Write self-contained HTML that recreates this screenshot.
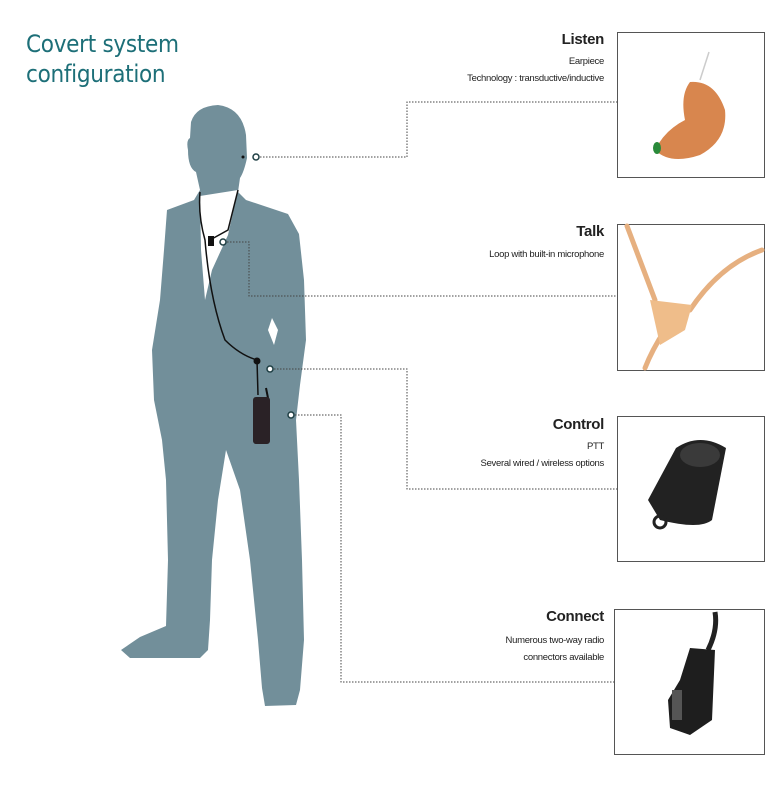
<!DOCTYPE html>
<html><head><meta charset="utf-8"><style>
body{margin:0;background:#fff;width:780px;height:812px;overflow:hidden;font-family:"Liberation Sans",sans-serif}
.t{position:absolute;right:176px;text-align:right;color:#222}
.h{font-weight:bold;font-size:15px;letter-spacing:-0.3px}
.s{font-size:9.5px;line-height:17px;letter-spacing:-0.3px}
.box{position:absolute;border:1.5px solid #555;background:#fff}
</style></head><body>
<div style="position:absolute;left:26px;top:29px;color:#1d6f78;font-size:24px;line-height:30px;font-family:'DejaVu Sans Condensed','Liberation Sans',sans-serif;letter-spacing:-0.3px">Covert system<br>configuration</div>

<div class="t h" style="top:31px">Listen</div>
<div class="t s" style="top:53px">Earpiece<br>Technology : transductive/inductive</div>
<div class="t h" style="top:223px">Talk</div>
<div class="t s" style="top:246px">Loop with built-in microphone</div>
<div class="t h" style="top:416px">Control</div>
<div class="t s" style="top:438px">PTT<br>Several wired / wireless options</div>
<div class="t h" style="top:608px">Connect</div>
<div class="t s" style="top:632px">Numerous two-way radio<br>connectors available</div>

<div class="box" style="left:617px;top:32px;width:146px;height:144px"></div>
<div class="box" style="left:617px;top:224px;width:146px;height:145px"></div>
<div class="box" style="left:617px;top:416px;width:146px;height:144px"></div>
<div class="box" style="left:614px;top:609px;width:149px;height:144px"></div>

<svg width="780" height="812" style="position:absolute;left:0;top:0">
<path fill="#728f9a" d="M218,105 Q242,108 246,135 L247,158 Q244,172 240,178 L238,192 L246,200 L288,214 L299,234 L304,280 L306,340 L300,385 L296,420 L299,480 L302,560 L304,640 L300,690 L296,705 L265,706 L262,688 L258,640 L250,560 L240,490 L226,450 L218,500 L212,560 L210,620 L208,650 L200,658 L130,658 L121,650 L140,637 L166,626 L168,560 L166,480 L162,440 L154,400 L152,350 L160,300 L164,250 L167,210 L194,200 L200,190 L196,172 Q188,168 188,150 Q186,140 190,138 L191,122 Q196,106 218,105 Z"/>
<path fill="#fff" d="M200,196 L238,190 L228,235 L212,270 L205,300 L201,250 Z"/>
<path fill="#fff" d="M272,318 L278,330 L274,345 L268,330 Z"/>
<path d="M200,192 Q198,215 205,240 Q210,300 225,340 Q240,355 257,360 L258,395" stroke="#111" stroke-width="1.5" fill="none"/>
<path d="M238,190 L228,230 L210,240" stroke="#111" stroke-width="1.5" fill="none"/>
<circle cx="257" cy="361" r="3.5" fill="#111"/>
<rect x="208" y="236" width="6" height="10" fill="#111"/>
<line x1="266" y1="388" x2="268" y2="398" stroke="#111" stroke-width="2"/>
<rect x="253" y="397" width="17" height="47" rx="3" fill="#2a2226"/>
<circle cx="243" cy="157" r="1.5" fill="#111"/>
<g stroke="#444" stroke-width="1" stroke-dasharray="1.5,1.5" fill="none">
<path d="M260,157 H407 V102 H617"/>
<path d="M227,242 H249 V296 H617"/>
<path d="M274,369 H407 V489 H617"/>
<path d="M295,415 H341 V682 H614"/>
</g>
<g fill="#fff" stroke="#1f3f44" stroke-width="1.5">
<circle cx="256" cy="157" r="3"/><circle cx="223" cy="242" r="3"/>
<circle cx="270" cy="369" r="3"/><circle cx="291" cy="415" r="3"/>
</g>
<line x1="700" y1="80" x2="709" y2="52" stroke="#ccc" stroke-width="1.5"/>
<path d="M690,82 Q715,80 725,110 Q728,140 700,155 Q670,165 655,150 Q665,130 685,120 Q680,95 690,82Z" fill="#d8864e"/>
<ellipse cx="657" cy="148" rx="4" ry="6" fill="#2a8a3a"/>
<g stroke="#e6b080" stroke-width="5" fill="none" stroke-linecap="round">
<path d="M627,226 Q640,260 655,300"/>
<path d="M762,250 Q720,265 690,310"/>
<path d="M665,330 Q652,350 645,368"/>
</g>
<path d="M650,300 L692,305 L685,330 L660,345 Z" fill="#efbd8a"/>
<path d="M676,448 Q700,432 726,448 L712,520 Q700,530 660,520 L648,500 Z" fill="#222"/>
<ellipse cx="700" cy="455" rx="20" ry="12" fill="#3a3a3a"/>
<circle cx="660" cy="522" r="6" fill="none" stroke="#222" stroke-width="3"/>
<path d="M715,612 Q718,630 708,650" stroke="#222" stroke-width="5" fill="none"/>
<path d="M690,648 L715,650 L712,720 L690,735 L670,728 L668,700 L680,680 Z" fill="#1e1e1e"/>
<rect x="672" y="690" width="10" height="30" fill="#555"/>
</svg>
</body></html>
